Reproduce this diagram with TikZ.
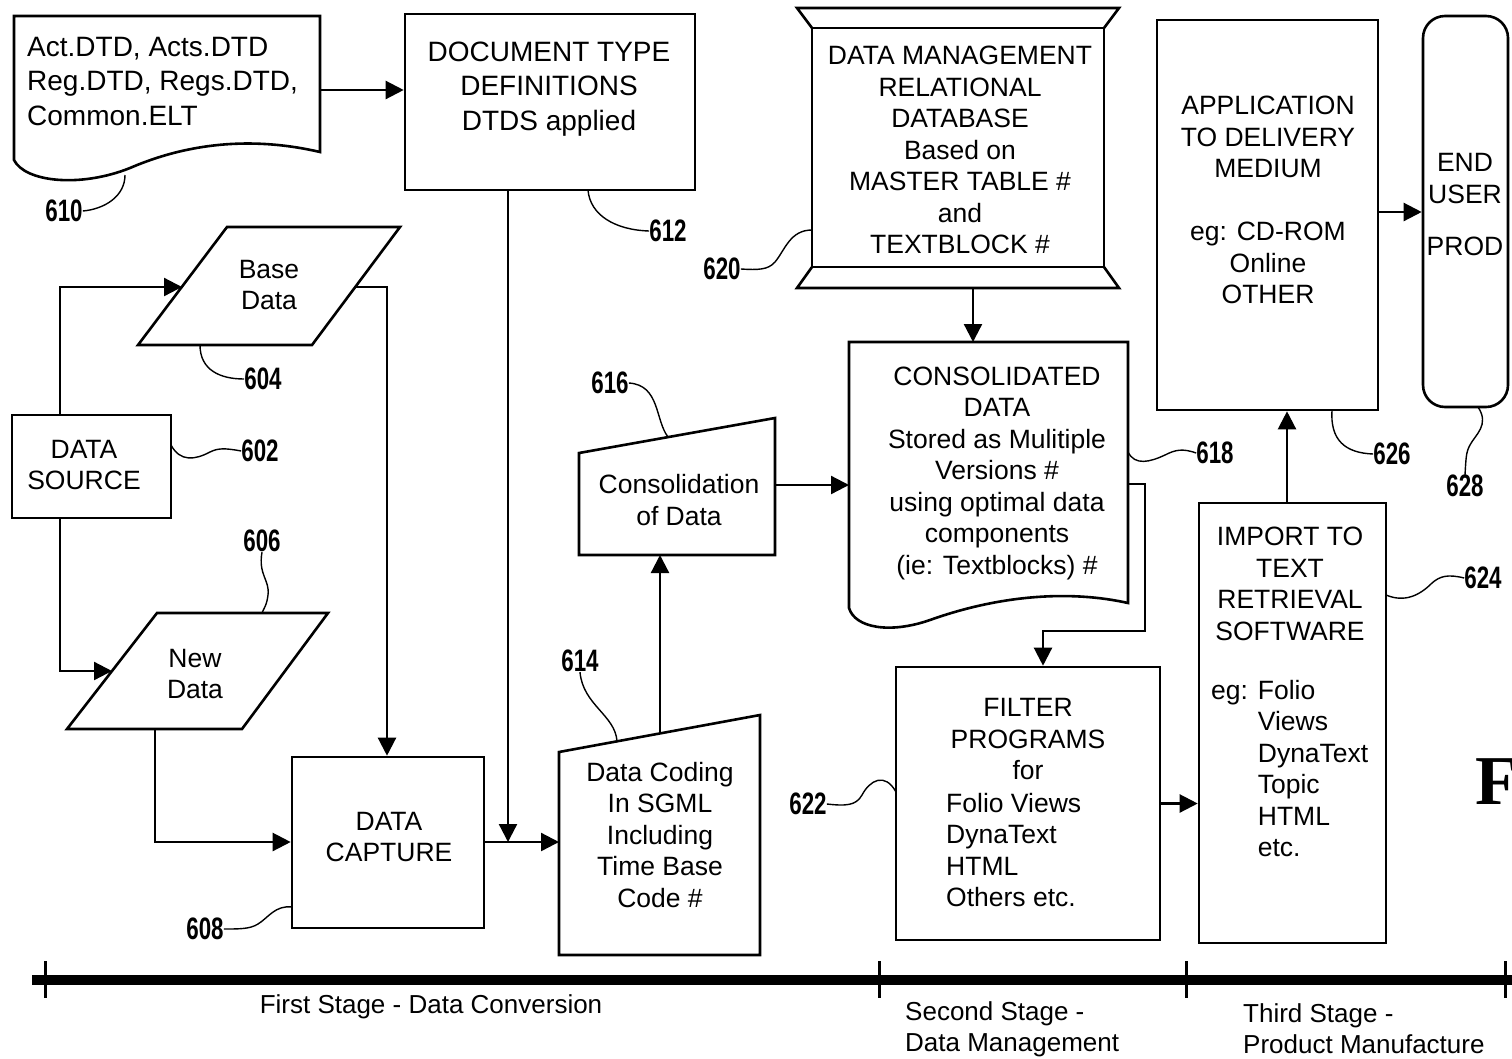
\documentclass[tikz,border=0pt]{standalone}
\usepackage{fontspec}
\usepackage{graphicx}
\setmainfont{Liberation Sans}
\newfontfamily\serifF{Liberation Serif}
\usetikzlibrary{arrows.meta,calc}
\newcommand\lbl[1]{\scalebox{0.72}[1]{#1}}
\begin{document}
\begin{tikzpicture}[x=1pt,y=-1pt,
  box/.style={draw, line width=2.6pt, inner sep=0pt},
  shp/.style={draw, line width=2.6pt, line join=miter},
  txt/.style={align=center, font=\fontsize{26.5}{31.5}\selectfont, inner sep=0pt},
  bigtxt/.style={align=center, font=\fontsize{28}{34.5}\selectfont, inner sep=0pt},
  conn/.style={line width=2.3pt, -{Triangle[length=18pt,width=18pt]}},
  plain/.style={line width=2.3pt},
  lead/.style={line width=1.4pt},
  num/.style={font=\bfseries\fontsize{31}{31}\selectfont, inner sep=0pt},
  stage/.style={font=\fontsize{26}{31}\selectfont, inner sep=0pt, align=left},
]
\useasboundingbox (0,0) rectangle (1512,1058);

% ---------- rectangular boxes ----------
\node[box, minimum width=290pt, minimum height=176pt] (dtd) at (550,102) {};
\node[box, minimum width=159pt, minimum height=103pt] (src) at (91.5,466.5) {};
\node[box, minimum width=192pt, minimum height=171pt] (cap) at (388,842.5) {};
\node[box, minimum width=264pt, minimum height=273pt] (filt) at (1028,803.5) {};
\node[box, minimum width=187pt, minimum height=440pt] (imp) at (1292.5,723) {};
\node[box, minimum width=221pt, minimum height=390pt] (app) at (1267.5,215) {};
\node[box, rounded corners=22pt, minimum width=85pt, minimum height=391pt] (eu) at (1465.5,211.5) {};

% ---------- custom shapes ----------
% 610 document
\draw[shp] (14,16) -- (320,16) -- (320,152)
  .. controls (260,138) and (195,140) .. (130,168)
  .. controls (80,188) and (25,182) .. (14,160) -- cycle;
% 620 database
\node[box, minimum width=292pt, minimum height=239pt] (db) at (958,147.5) {};
\draw[shp] (812,28) -- (797,8) -- (1119,8) -- (1104,28);
\draw[shp] (812,267) -- (797,288) -- (1119,288) -- (1104,267);
% 618 consolidated document
\draw[shp] (849,342) -- (1128,342) -- (1128,603)
  .. controls (1070,590) and (1000,595) .. (930,620)
  .. controls (890,634) and (855,628) .. (849,608) -- cycle;
% 616 manual
\draw[shp] (579,555) -- (775,555) -- (775,418) -- (579,453) -- cycle;
% 614 manual
\draw[shp] (559,955) -- (760,955) -- (760,715) -- (559,752) -- cycle;
% 604 parallelogram
\draw[shp] (227,227) -- (400,227) -- (312,345) -- (138,345) -- cycle;
% 606 parallelogram
\draw[shp] (157,613) -- (328,613) -- (242,729) -- (67,729) -- cycle;

% ---------- texts ----------
\node[bigtxt, align=left, anchor=west] (t610) at (27,81) {Act.DTD, Acts.DTD\\Reg.DTD, Regs.DTD,\\Common.ELT};
\node[bigtxt] (t612) at (549,89) {DOCUMENT TYPE\\DEFINITIONS\\DTDS applied};
\node[txt] (t620) at (960,150) {DATA MANAGEMENT\\RELATIONAL\\DATABASE\\Based on\\MASTER TABLE \#\\and\\TEXTBLOCK \#};
\node[txt] (t618) at (997,473) {CONSOLIDATED\\DATA\\Stored as Mulitiple\\Versions \#\\using optimal data\\components\\(ie: Textblocks) \#};
\node[txt] (t616) at (679,500) {Consolidation\\of Data};
\node[txt] (t614) at (660,835) {Data Coding\\In SGML\\Including\\Time Base\\Code \#};
\node[txt] (t608) at (389,837) {DATA\\CAPTURE};
\node[txt] (t602) at (84,465) {DATA\\SOURCE};
\node[txt] (t604) at (269,285) {Base\\Data};
\node[txt] (t606) at (195,674) {New\\Data};
\node[txt] (t622a) at (1028,739) {FILTER\\PROGRAMS\\for};
\node[txt, align=left, anchor=west] (t622b) at (946,850) {Folio Views\\DynaText\\HTML\\Others etc.};
\node[txt] (t624a) at (1290,584) {IMPORT TO\\TEXT\\RETRIEVAL\\SOFTWARE};
\node[txt, align=left, anchor=west] (t624b) at (1211,771) {eg: Folio\\\phantom{eg: }Views\\\phantom{eg: }DynaText\\\phantom{eg: }Topic\\\phantom{eg: }HTML\\\phantom{eg: }etc.};
\node[txt] (t626) at (1268,200) {APPLICATION\\TO DELIVERY\\MEDIUM\\[31.5pt]eg: CD-ROM\\Online\\OTHER};
\node[txt] (t628) at (1465,205) {END\\USER\\[21pt]PROD};

% ---------- connection points ----------
\coordinate (d610e) at (320,90);
\coordinate (jn) at (508,842);
\coordinate (codW) at (559,842);
\coordinate (codT) at (660,733);
\coordinate (consB) at (660,555);
\coordinate (consE) at (775,485);
\coordinate (c618W) at (849,485);
\coordinate (c618N) at (973,342);
\coordinate (c618E) at (1128,484);
\coordinate (dbS) at (973,288);
\coordinate (baseW) at (182,287);
\coordinate (baseE) at (355,287);
\coordinate (newW) at (112,671);
\coordinate (newS) at (155,729);

% ---------- connectors ----------
\draw[conn] (d610e) -- (d610e -| dtd.west);
\draw[conn] (jn |- dtd.south) -- (jn);
\draw[conn] (cap.east |- codW) -- (codW);
\draw[conn] (codT) -- (consB);
\draw[conn] (consE) -- (c618W);
\draw[conn] (dbS) -- (c618N);
\draw[conn] (c618E) -- (1145,484) -- (1145,631) -- (1043,631) -- (1043,0 |- filt.north);
\draw[conn] (filt.east) -- (filt.east -| imp.west);
\draw[conn] (imp.north -| 1287,0) -- (app.south -| 1287,0);
\draw[conn] (app.east |- 0,212) -- (eu.west |- 0,212);
\draw[conn] (src.north -| 60,0) -- (60,287) -- (baseW);
\draw[conn] (baseE) -- (387,287) -- (cap.north -| 387,0);
\draw[conn] (src.south -| 60,0) -- (60,671) -- (newW);
\draw[conn] (newS) -- (155,842) -- (cap.west |- 0,842);

% ---------- reference numerals ----------
\node[num] (n610) at (64,211) {\lbl{610}};
\node[num] (n612) at (668,231) {\lbl{612}};
\node[num] (n620) at (722,269) {\lbl{620}};
\node[num] (n602) at (260,451) {\lbl{602}};
\node[num] (n604) at (263,379) {\lbl{604}};
\node[num] (n606) at (262,541) {\lbl{606}};
\node[num] (n608) at (205,929) {\lbl{608}};
\node[num] (n614) at (580,661) {\lbl{614}};
\node[num] (n616) at (610,383) {\lbl{616}};
\node[num] (n618) at (1215,453) {\lbl{618}};
\node[num] (n622) at (808,804) {\lbl{622}};
\node[num] (n624) at (1483,578) {\lbl{624}};
\node[num] (n626) at (1392,454) {\lbl{626}};
\node[num] (n628) at (1465,486) {\lbl{628}};

\draw[lead] (125,175) .. controls (125,196) and (105,209) .. (n610.east);
\draw[lead] (588,190) .. controls (590,215) and (615,230) .. (n612.west);
\draw[lead] (812,230) .. controls (790,230) and (785,250) .. (775,262) .. controls (768,270) and (758,270) .. (n620.east);
\draw[lead] (171,445) .. controls (180,462) and (195,460) .. (210,452) .. controls (218,448) and (225,448) .. (n602.west);
\draw[lead] (200,345) .. controls (200,370) and (220,379) .. (n604.west);
\draw[lead] (n606.south) .. controls (258,575) and (270,580) .. (268,595) .. controls (267,605) and (263,610) .. (262,613);
\draw[lead] (292,907) .. controls (275,905) and (268,918) .. (258,924) .. controls (250,929) and (240,929) .. (n608.east);
\draw[lead] (617,741) .. controls (615,715) and (583,705) .. (n614.south);
\draw[lead] (668,437) .. controls (655,420) and (660,385) .. (n616.east);
\draw[lead] (1128,452) .. controls (1135,466) and (1150,462) .. (1165,455) .. controls (1175,450) and (1182,448) .. (n618.west);
\draw[lead] (896,792) .. controls (885,772) and (870,780) .. (862,795) .. controls (856,806) and (845,806) .. (n622.east);
\draw[lead] (1386,595) .. controls (1405,603) and (1420,595) .. (1432,583) .. controls (1440,576) and (1448,574) .. (n624.west);
\draw[lead] (1332,410) .. controls (1330,440) and (1345,453) .. (n626.west);
\draw[lead] (1478,407) .. controls (1490,425) and (1475,435) .. (1470,445) .. controls (1466,452) and (1466,458) .. (n628.north);

% ---------- figure letter (cut at the right edge, as in the reference) ----------
\node[inner sep=0pt, anchor=west, font=\serifF\bfseries\fontsize{70}{70}\selectfont] (fig) at (1475,782) {F};

% ---------- stage timeline ----------
\coordinate (tlL) at (32,980);
\coordinate (tlR) at (1512,980);
\draw[line width=10pt] (tlL) -- (tlR);
\foreach \tx [count=\ti] in {45,879,1186,1505} {
  \coordinate (tk\ti) at (\tx,961);
  \draw[line width=3pt] (tk\ti) -- (\tx,998);
}
\node[stage, align=center] (s1) at (431,1007) {First Stage - Data Conversion};
\node[stage, anchor=west] (s2) at (905,1029) {Second Stage -\\Data Management};
\node[stage, anchor=west] (s3) at (1243,1029) {Third Stage -\\Product Manufacture};
\end{tikzpicture}
\end{document}
